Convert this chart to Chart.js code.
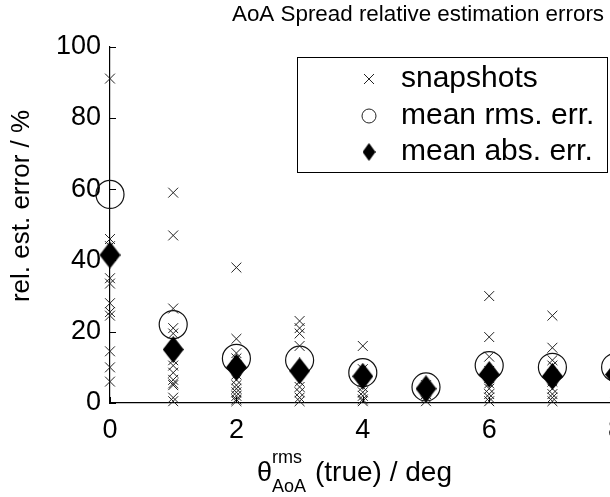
<!DOCTYPE html>
<html><head><meta charset="utf-8">
<script src="https://cdn.jsdelivr.net/npm/chart.js@4/dist/chart.umd.min.js"></script>
<style>
html,body{margin:0;padding:0;overflow:hidden;background:#fff;width:610px;height:497px;}
#wrap{position:absolute;left:0;top:0;width:800px;height:497px;}
</style></head><body>
<div id="wrap"><canvas id="c" width="800" height="497"></canvas></div>
<script>
// ---- data ----
const categories = [0, 1, 2, 3, 4, 5, 6, 7, 8];
const snap0 = [91, 46, 44, 35, 33.5, 28, 25.5, 24.5, 14.5, 10, 6];
const snap1 = [59, 47, 26.5, 21, 19.5, 12, 10.5, 8.5, 6.5, 5.5, 5, 1.5, 0.5];
const snap2 = [38, 18, 14, 12.5, 10.5, 8, 6.5, 5, 4, 3, 2, 1, 0.5];
const snap3 = [23, 21, 19.5, 16, 9, 6, 4.5, 3, 1.5, 0.5];
const snap4 = [16, 9.5, 7.5, 6, 4.5, 3, 2, 1, 0.5];
const snap5 = [5, 3.5, 2.5, 1.5, 0.5];
const snap6 = [30, 18.5, 13, 9, 7, 5.5, 4, 2.5, 1.5, 0.5];
const snap7 = [24.5, 15.5, 12, 10.5, 8, 6, 4, 2.5, 1.5, 0.5];
const snap8 = [12, 9, 6, 3, 1];
const snapshots = [snap0, snap1, snap2, snap3, snap4, snap5, snap6, snap7, snap8];
const meanRms = [58.5, 22, 12.5, 12, 8.5, 4.5, 10.5, 10, 10];
const meanAbs = [41.5, 15, 10, 9, 7.5, 4, 8, 7.5, 8];
const xTicks = [0, 2, 4, 6, 8, 10];
const yTicks = [0, 20, 40, 60, 80, 100];
const titleText = 'AoA Spread relative estimation errors';
const yTitle = 'rel. est. error / %';
const legendLabels = ['snapshots', 'mean rms. err.', 'mean abs. err.'];

const FONT = '"Liberation Sans", Arial, Helvetica, sans-serif';

function diamond(w, h) {
  const c = document.createElement('canvas');
  c.width = w; c.height = h;
  const g = c.getContext('2d');
  g.fillStyle = '#000';
  g.beginPath();
  g.moveTo(w / 2, 0); g.lineTo(w, h / 2); g.lineTo(w / 2, h); g.lineTo(0, h / 2);
  g.closePath(); g.fill();
  return c;
}
const bigDiamond = diamond(21, 27);
const smallDiamond = diamond(13, 18);

const snapPts = [];
categories.forEach((c, i) => snapshots[i].forEach(v => snapPts.push({x: c, y: v})));
const rmsPts = categories.map((c, i) => ({x: c, y: meanRms[i]}));
const absPts = categories.map((c, i) => ({x: c, y: meanAbs[i]}));

const decor = {
  id: 'decor',
  afterDraw(chart) {
    const {ctx, chartArea: a, scales: {x, y}} = chart;
    ctx.save();
    // inward ticks
    ctx.strokeStyle = '#000'; ctx.lineWidth = 1;
    ctx.beginPath();
    xTicks.forEach(v => { const p = Math.round(x.getPixelForValue(v)) + 0.5; ctx.moveTo(p, a.bottom); ctx.lineTo(p, a.bottom - 6); });
    yTicks.forEach(v => { const p = Math.round(y.getPixelForValue(v)) + 0.5; ctx.moveTo(a.left, p); ctx.lineTo(a.left + 6, p); });
    ctx.stroke();
    // title
    ctx.fillStyle = '#000';
    ctx.textAlign = 'center'; ctx.textBaseline = 'middle';
    ctx.font = '22.4px ' + FONT;
    ctx.fillText(titleText, 418, 15);
    // y title
    ctx.save();
    ctx.translate(22, 206); ctx.rotate(-Math.PI / 2);
    ctx.font = '26px ' + FONT;
    ctx.fillText(yTitle, 0, 0);
    ctx.restore();
    // x title with super/subscript
    ctx.textAlign = 'left'; ctx.textBaseline = 'alphabetic';
    ctx.font = '27px ' + FONT;
    ctx.fillText('\u03B8', 257, 481);
    ctx.font = '18px ' + FONT;
    ctx.fillText('rms', 272, 463);
    ctx.fillText('AoA', 272, 492);
    ctx.font = '28px ' + FONT;
    ctx.fillText('(true) / deg', 315, 481);
    // legend
    ctx.lineWidth = 1;
    ctx.strokeRect(297.5, 57.5, 310, 115);
    const mx = 369, rows = [79, 116, 152];
    ctx.strokeStyle = '#222';
    ctx.beginPath();
    ctx.moveTo(mx - 5, rows[0] - 5); ctx.lineTo(mx + 5, rows[0] + 5);
    ctx.moveTo(mx + 5, rows[0] - 5); ctx.lineTo(mx - 5, rows[0] + 5);
    ctx.stroke();
    ctx.beginPath(); ctx.arc(mx, rows[1], 7, 0, Math.PI * 2); ctx.stroke();
    ctx.drawImage(smallDiamond, mx - smallDiamond.width / 2, rows[2] - smallDiamond.height / 2);
    ctx.font = '30px ' + FONT; ctx.textBaseline = 'middle'; ctx.fillStyle = '#000';
    legendLabels.forEach((t, i) => ctx.fillText(t, 401, rows[i]));
    ctx.restore();
  }
};

new Chart(document.getElementById('c'), {
  type: 'scatter',
  data: {
    datasets: [
      {label: legendLabels[2], data: absPts, pointStyle: bigDiamond, order: 0, clip: false},
      {label: legendLabels[0], data: snapPts, pointStyle: 'crossRot', pointRadius: 7, borderColor: '#222', borderWidth: 1, order: 1, clip: false},
      {label: legendLabels[1], data: rmsPts, pointStyle: 'circle', pointRadius: 14, borderColor: '#111', borderWidth: 1.2, backgroundColor: 'rgba(0,0,0,0)', order: 2, clip: false}
    ]
  },
  options: {
    responsive: false, animation: false, devicePixelRatio: 1,
    layout: {padding: {top: 46.5, right: 58, bottom: 0, left: 0}},
    plugins: {legend: {display: false}, tooltip: {enabled: false}, title: {display: false}},
    elements: {point: {hoverRadius: 0}},
    scales: {
      x: {
        type: 'linear', min: 0, max: 10,
        afterFit: s => { s.height = 94; },
        grid: {display: false, drawTicks: false},
        border: {display: true, color: '#000', width: 1.2},
        ticks: {stepSize: 2, padding: 11, color: '#000', font: {family: FONT, size: 27}, maxRotation: 0, callback: v => xTicks.includes(v) ? String(v) : ''}
      },
      y: {
        type: 'linear', min: 0, max: 100,
        afterFit: s => { s.width = 110; },
        grid: {display: false, drawTicks: false},
        border: {display: true, color: '#000', width: 1.2},
        ticks: {stepSize: 20, padding: 9, color: '#000', font: {family: FONT, size: 27}, callback: v => yTicks.includes(v) ? String(v) : ''}
      }
    }
  },
  plugins: [decor]
});
</script>
</body></html>
